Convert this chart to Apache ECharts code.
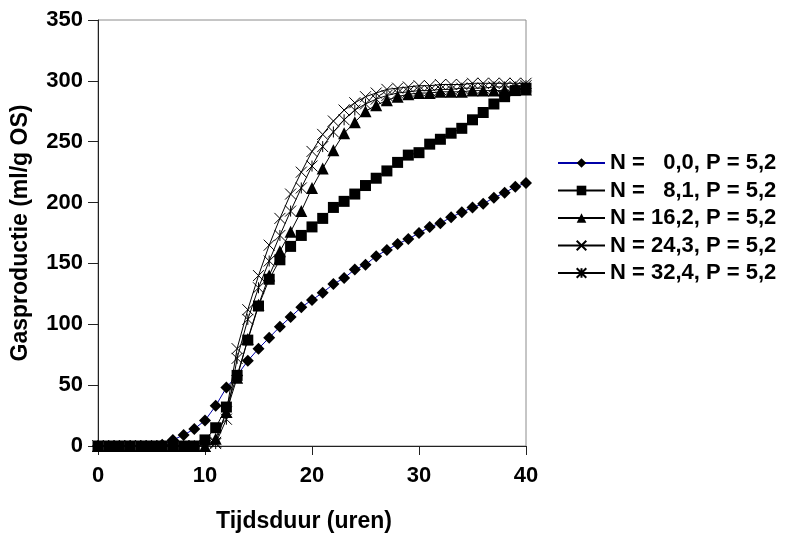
<!DOCTYPE html>
<html>
<head>
<meta charset="utf-8">
<script src="https://cdn.jsdelivr.net/npm/echarts@6/dist/echarts.min.js"></script>
<style>
html,body{margin:0;padding:0;background:#fff;}
#chart{width:786px;height:538px;}
</style>
</head>
<body>
<div id="chart"></div>
<script>
var hours = [0,1,2,3,4,5,6,7,8,9,10,11,12,13,14,15,16,17,18,19,20,21,22,23,24,25,26,27,28,29,30,31,32,33,34,35,36,37,38,39,40];
var xTicks = [0,10,20,30,40];
var yTicks = [0,50,100,150,200,250,300,350];
var seriesNames = ['N =   0,0, P = 5,2','N =   8,1, P = 5,2','N = 16,2, P = 5,2','N = 24,3, P = 5,2','N = 32,4, P = 5,2'];
var n00 = [0,0,0,0,0,0,1,5,9,14,21,33,48,58,70,80,89,98,106,114,120,126,133,138,145,149,156,161,166,170,175,180,183,188,192,196,199,204,208,213,216];
var n81 = [0,0,0,0,0,0,0,0,0,0,5,15,32,58,87,115,137,153,164,173,180,187,196,201,207,214,220,226,233,239,241,248,252,257,261,268,274,281,287,292,294];
var n162 = [0,0,0,0,0,0,0,0,0,0,0,6,28,56,88,116,140,160,176,193,212,228,243,257,266,275,280,284,287,289,290,290,291,291,291,292,292,292,292,293,293];
var n243 = [0,0,0,0,0,0,0,0,0,0,0,3,28,80,112,140,165,187,207,225,242,256,267,276,282,287,290,293,294,295,296,296,297,297,297,298,298,298,298,298,298];
var n324 = [0,0,0,0,0,0,0,0,0,0,0,2,22,72,104,130,152,173,193,212,230,246,258,268,276,281,285,288,290,291,292,292,293,293,294,294,294,295,295,295,296];

function pairs(vals){ return hours.map(function(h,i){ return [h, vals[i]]; }); }

var FONT = '"Liberation Sans", Arial, sans-serif';
var chart = echarts.init(document.getElementById('chart'), null, {renderer:'canvas'});
var crossPath = 'path://M0 0L10 10M10 0L0 10';
var starPath = 'path://M0 0L10 10M10 0L0 10M5 0L5 10';

function mk(name, vals, symbol, size, lineColor, extra){
  var s = {
    name: name, type: 'line', data: pairs(vals),
    symbol: symbol, symbolSize: size, showSymbol: true,
    lineStyle: {color: lineColor, width: 1},
    itemStyle: {color: '#000'},
    emphasis: {disabled: true},
    z: 2
  };
  if (extra) { s.itemStyle = {color: '#000', borderColor: '#000', borderWidth: 1}; }
  return s;
}

chart.setOption({
  animation: false,
  backgroundColor: '#fff',
  grid: {left: 98, right: 260, top: 20, bottom: 91, show: true, borderColor: '#8c8c8c', borderWidth: 1, backgroundColor: 'transparent'},
  legend: {
    orient: 'vertical', left: 552, top: 147,
    itemWidth: 47, itemHeight: 12, itemGap: 5.5,
    textStyle: {fontFamily: FONT, fontSize: 22, fontWeight: 'bold', color: '#000', lineHeight: 22},
    data: seriesNames
  },
  xAxis: {
    type: 'value', min: 0, max: 40, interval: 10,
    name: 'Tijdsduur (uren)', nameLocation: 'middle', nameGap: 64,
    nameTextStyle: {fontFamily: FONT, fontSize: 23, fontWeight: 'bold', color: '#000', padding: [0, 16, 0, 0]},
    axisLine: {show: true, onZero: false, lineStyle: {color: '#222', width: 1}},
    axisTick: {show: true, length: 9, lineStyle: {color: '#222'}},
    axisLabel: {margin: 19, fontFamily: FONT, fontSize: 22, fontWeight: 'bold', color: '#000',
      formatter: function(v){ return xTicks.indexOf(v) >= 0 ? String(v) : ''; }},
    splitLine: {show: false}
  },
  yAxis: {
    type: 'value', min: 0, max: 350, interval: 50,
    name: 'Gasproductie (ml/g OS)', nameLocation: 'middle', nameGap: 66,
    nameTextStyle: {fontFamily: FONT, fontSize: 23, fontWeight: 'bold', color: '#000'},
    axisLine: {show: true, onZero: false, lineStyle: {color: '#222', width: 1}},
    axisTick: {show: true, length: 10, lineStyle: {color: '#222'}},
    axisLabel: {margin: 15, fontFamily: FONT, fontSize: 22, fontWeight: 'bold', color: '#000',
      formatter: function(v){ return yTicks.indexOf(v) >= 0 ? String(v) : ''; }},
    splitLine: {show: false}
  },
  series: [
    mk(seriesNames[0], n00, 'diamond', 12, '#0000a8'),
    mk(seriesNames[1], n81, 'rect', 11, '#000'),
    mk(seriesNames[2], n162, 'triangle', 12, '#000'),
    mk(seriesNames[3], n243, crossPath, 11, '#000', true),
    mk(seriesNames[4], n324, starPath, 11, '#000', true)
  ]
});
</script>
</body>
</html>
